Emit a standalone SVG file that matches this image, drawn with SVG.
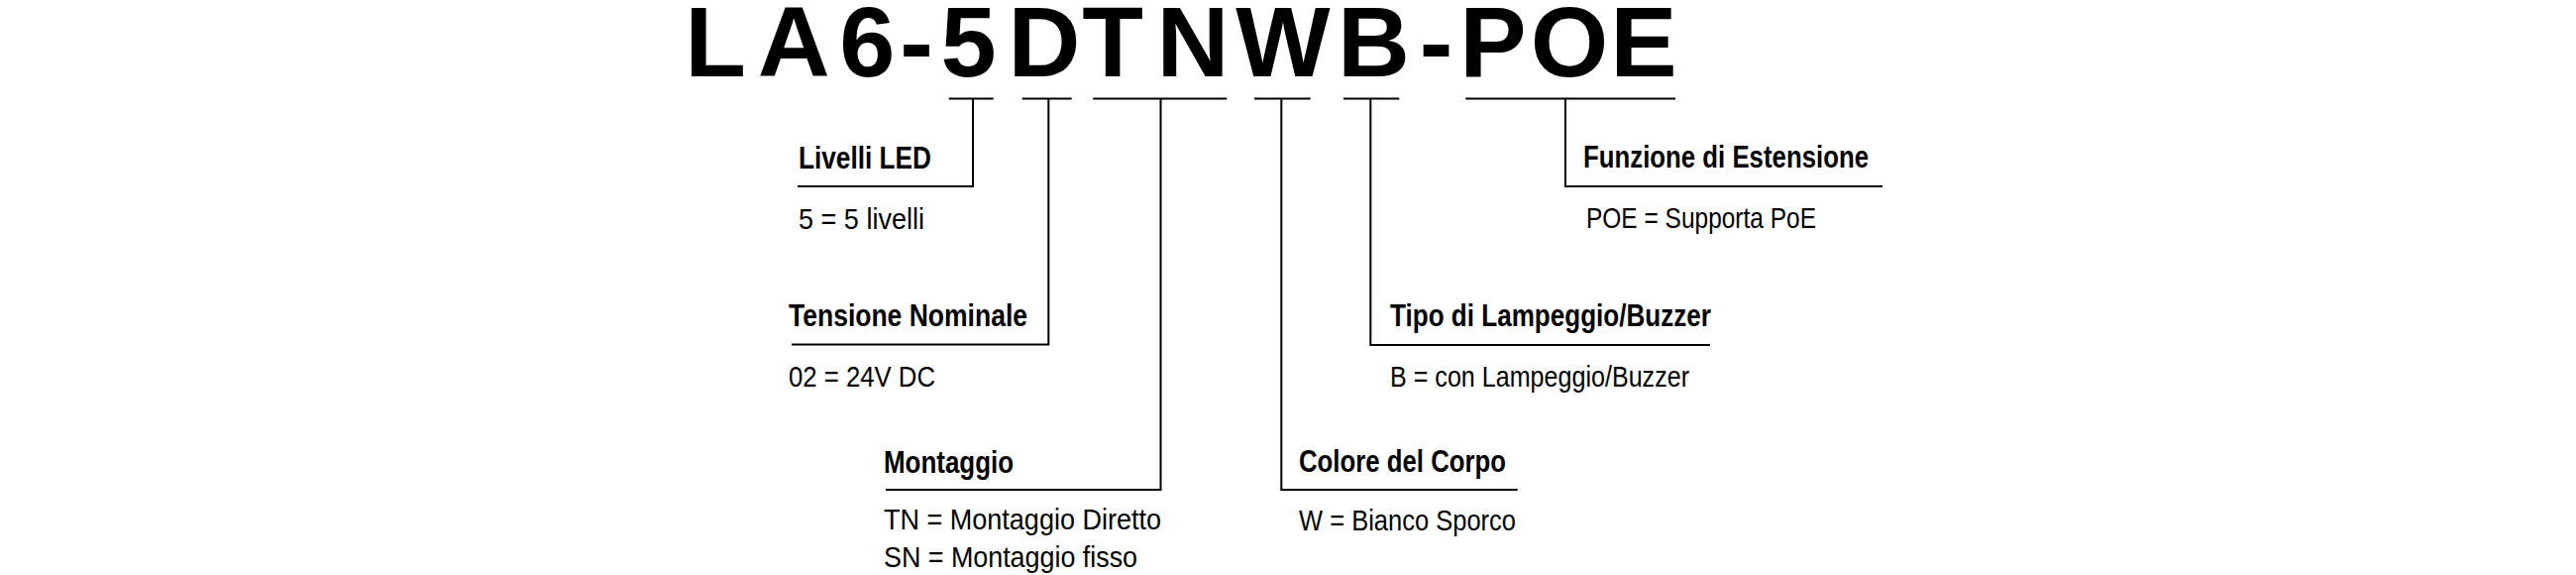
<svg xmlns="http://www.w3.org/2000/svg" width="2600" height="580" viewBox="0 0 2600 580">
<style>
.title{font-family:"Liberation Sans",Arial,sans-serif;font-weight:bold;font-size:101px;fill:#000;text-anchor:middle}
.h{font-family:"Liberation Sans Narrow","Liberation Sans",Arial,sans-serif;font-weight:bold;font-size:31px;fill:#000}
.d{font-family:"Liberation Sans Narrow","Liberation Sans",Arial,sans-serif;font-size:30px;fill:#000}
.ln{stroke:#000;stroke-width:2;fill:none}
</style>
<rect width="2600" height="580" fill="#fff"/>
<g id="title">
<text class="title" y="77" x="722 801.3 875.3 925 977.5 1054 1123 1204 1295 1386.5 1449.5 1507 1584 1659">LA6-5DTNWB-POE</text>
</g>
<g id="connectors">
<path class="ln" d="M957.7 99.5H1002.7M982 99.5V188H805"/>
<path class="ln" d="M1031.7 99.5H1081.7M1058.3 99.5V347.5H799"/>
<path class="ln" d="M1103.3 99.5H1238.3M1171.5 99.5V494H894"/>
<path class="ln" d="M1266 99.5H1322.7M1293.3 99.5V494H1531.7"/>
<path class="ln" d="M1356 99.5H1412.3M1383.3 99.5V348H1726"/>
<path class="ln" d="M1479.3 99.5H1691M1580 99.5V188H1900"/>
</g>
<g id="node-livelli">
<text class="h" x="806" y="169.5" textLength="134" lengthAdjust="spacingAndGlyphs">Livelli LED</text>
<text class="d" x="806" y="230.5" textLength="127" lengthAdjust="spacingAndGlyphs">5 = 5 livelli</text>
</g>
<g id="node-tensione">
<text class="h" x="796" y="329" textLength="241" lengthAdjust="spacingAndGlyphs">Tensione Nominale</text>
<text class="d" x="796" y="389.5" textLength="148" lengthAdjust="spacingAndGlyphs">02 = 24V DC</text>
</g>
<g id="node-montaggio">
<text class="h" x="892" y="477" textLength="131" lengthAdjust="spacingAndGlyphs">Montaggio</text>
<text class="d" x="892" y="534" textLength="280" lengthAdjust="spacingAndGlyphs">TN = Montaggio Diretto</text>
<text class="d" x="892" y="572" textLength="256" lengthAdjust="spacingAndGlyphs">SN = Montaggio fisso</text>
</g>
<g id="node-colore">
<text class="h" x="1311" y="476" textLength="209" lengthAdjust="spacingAndGlyphs">Colore del Corpo</text>
<text class="d" x="1311" y="535" textLength="219" lengthAdjust="spacingAndGlyphs">W = Bianco Sporco</text>
</g>
<g id="node-tipo">
<text class="h" x="1403" y="329" textLength="324" lengthAdjust="spacingAndGlyphs">Tipo di Lampeggio/Buzzer</text>
<text class="d" x="1403" y="390" textLength="302" lengthAdjust="spacingAndGlyphs">B = con Lampeggio/Buzzer</text>
</g>
<g id="node-funzione">
<text class="h" x="1598" y="169" textLength="288" lengthAdjust="spacingAndGlyphs">Funzione di Estensione</text>
<text class="d" x="1601" y="229.5" textLength="232" lengthAdjust="spacingAndGlyphs">POE = Supporta PoE</text>
</g>
</svg>
